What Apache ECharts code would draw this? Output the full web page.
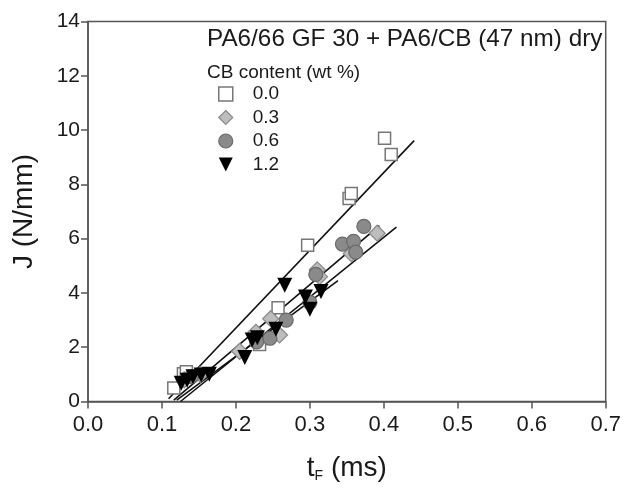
<!DOCTYPE html>
<html>
<head>
<meta charset="utf-8">
<script src="https://cdn.jsdelivr.net/npm/echarts@6/dist/echarts.min.js"></script>
<style>html,body{margin:0;padding:0;background:#fff;}#c{width:624px;height:490px;}</style>
</head>
<body>
<div id="c"></div>
<script>
// Data
var xTicks = [0.0, 0.1, 0.2, 0.3, 0.4, 0.5, 0.6, 0.7];
var yTicks = [0, 2, 4, 6, 8, 10, 12, 14];
var groupNames = ['0.0', '0.3', '0.6', '1.2'];

var cb00 = [[0.116,0.50],[0.129,1.02],[0.133,1.10],[0.232,2.10],[0.257,3.45],[0.297,5.76],[0.353,7.48],[0.356,7.66],[0.401,9.70],[0.410,9.10]];
var cb03 = [[0.130,0.80],[0.152,1.00],[0.205,1.85],[0.227,2.55],[0.247,3.05],[0.259,2.45],[0.310,4.85],[0.313,4.60],[0.356,5.45],[0.391,6.20]];
var cb06 = [[0.140,0.92],[0.228,2.20],[0.246,2.33],[0.268,3.00],[0.300,3.65],[0.308,4.68],[0.344,5.80],[0.359,5.90],[0.362,5.50],[0.373,6.45]];
var cb12 = [[0.126,0.67],[0.134,0.78],[0.142,0.91],[0.153,0.98],[0.164,1.00],[0.212,1.62],[0.222,2.27],[0.229,2.35],[0.254,2.66],[0.266,4.28],[0.294,3.85],[0.300,3.40],[0.315,4.05]];

var fit00 = [[0.109,0.10],[0.441,9.61]];
var fit03 = [[0.125,0.00],[0.417,6.42]];
var fit06 = [[0.116,0.05],[0.394,6.48]];
var fit12 = [[0.120,0.05],[0.338,4.45]];

var FONT = 'Liberation Sans, Arial, sans-serif';
var chart = echarts.init(document.getElementById('c'), null, {renderer: 'canvas'});

function fitSeries(name, data) {
  return {
    name: name, type: 'line', data: data, symbol: 'none', silent: true,
    lineStyle: {color: '#111', width: 1.6}, z: 1
  };
}

var styles = [
  {color: '#fff', borderColor: '#777', borderWidth: 1.5, opacity: 1},
  {color: '#bdbdbd', borderColor: '#8a8a8a', borderWidth: 1.2, opacity: 1},
  {color: '#8a8a8a', borderColor: '#6a6a6a', borderWidth: 1.2, opacity: 1},
  {color: '#000', borderColor: '#000', borderWidth: 0, opacity: 1}
];
var legendIcons = ['rect', 'diamond', 'circle', 'path://M0,0 L10,0 L5,10 Z'];

var option = {
  backgroundColor: '#fff',
  animation: false,
  title: [
    {text: 'PA6/66 GF 30 + PA6/CB (47 nm) dry', left: 202, top: 22,
     textStyle: {fontFamily: FONT, fontSize: 24.3, fontWeight: 'normal', color: '#1a1a1a'}},
    {text: 'CB content (wt %)', left: 202, top: 58,
     textStyle: {fontFamily: FONT, fontSize: 19, fontWeight: 'normal', color: '#1a1a1a'}}
  ],
  legend: {
    data: groupNames.map(function (n, i) {
      return {name: n, icon: legendIcons[i], itemStyle: styles[i]};
    }),
    orient: 'vertical', left: 213, top: 79,
    itemWidth: 14, itemHeight: 14, itemGap: 3.5,
    textStyle: {fontFamily: FONT, fontSize: 19, color: '#1a1a1a', lineHeight: 20, padding: [0,0,0,15]},
    selectedMode: false
  },
  grid: {left: 88, right: 16, top: 21.5, bottom: 88.5, show: true, borderColor: '#555', borderWidth: 1.5, containLabel: false},
  xAxis: {
    type: 'value', min: 0, max: 0.7, interval: 0.1,
    name: '{a|t}{b|F}{a| (ms)}', nameLocation: 'middle', nameGap: 52,
    nameTextStyle: {rich: {
      a: {fontFamily: FONT, fontSize: 28, color: '#1a1a1a'},
      b: {fontFamily: FONT, fontSize: 14, color: '#1a1a1a', verticalAlign: 'bottom', padding: [16,0,0,0]}
    }},
    axisLine: {lineStyle: {color: '#555', width: 1.5}},
    axisTick: {inside: false, length: 7, lineStyle: {color: '#555', width: 1.5}},
    axisLabel: {fontFamily: FONT, fontSize: 22, color: '#1a1a1a', margin: 12,
      formatter: function (v) { return v.toFixed(1); }},
    splitLine: {show: false}
  },
  yAxis: {
    type: 'value', min: 0, max: 14, interval: 2,
    name: 'J (N/mm)', nameLocation: 'middle', nameGap: 50,
    nameTextStyle: {fontFamily: FONT, fontSize: 28, color: '#1a1a1a'},
    axisLine: {lineStyle: {color: '#555', width: 1.5}},
    axisTick: {inside: false, length: 7, lineStyle: {color: '#555', width: 1.5}},
    axisLabel: {fontFamily: FONT, fontSize: 21, color: '#1a1a1a', margin: 8},
    splitLine: {show: false}
  },
  series: [
    fitSeries('fit 0.0', fit00),
    fitSeries('fit 0.3', fit03),
    fitSeries('fit 0.6', fit06),
    fitSeries('fit 1.2', fit12),
    {name: groupNames[0], type: 'scatter', data: cb00, symbol: 'rect', symbolSize: 12,
     itemStyle: styles[0], z: 2},
    {name: groupNames[1], type: 'scatter', data: cb03, symbol: 'diamond', symbolSize: 16,
     itemStyle: styles[1], z: 3},
    {name: groupNames[2], type: 'scatter', data: cb06, symbol: 'circle', symbolSize: 14,
     itemStyle: styles[2], z: 4},
    {name: groupNames[3], type: 'scatter', data: cb12, symbol: 'triangle', symbolRotate: 180, symbolSize: 15,
     itemStyle: styles[3], z: 5}
  ]
};
chart.setOption(option);
</script>
</body>
</html>
